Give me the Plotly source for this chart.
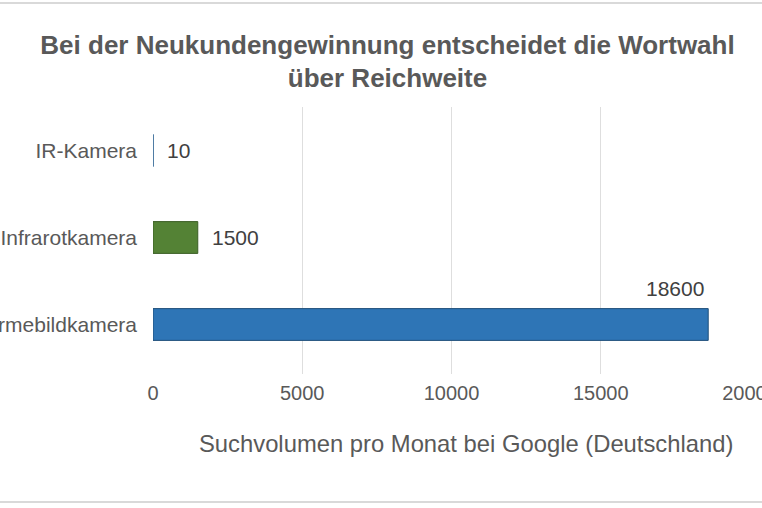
import plotly.graph_objects as go

categories = ["IR-Kamera", "Infrarotkamera", "Wärmebildkamera"]
values = [10, 1500, 18600]
bar_colors = ["#5B9BD5", "#548235", "#2E75B6"]
line_colors = ["#41719C", "#3B5E25", "#1F4E79"]
x_ticks = [0, 5000, 10000, 15000, 20000]
title_text = "Bei der Neukundengewinnung entscheidet die Wortwahl<br>über Reichweite"
x_title = "Suchvolumen pro Monat bei Google (Deutschland)"

FONT = "Liberation Sans, Arial, sans-serif"
W, H = 762, 508
L, R, T, B = 153, 12, 107, 134

fig = go.Figure()
fig.add_trace(go.Bar(
    y=categories, x=values, orientation="h",
    marker=dict(color=bar_colors, line=dict(color=line_colors, width=1)),
    hoverinfo="skip",
))

# data labels
for cat, v in zip(categories, values):
    if v > 10000:
        fig.add_annotation(x=v, y=cat, xref="x", yref="y", text=str(v),
                           showarrow=False, xanchor="right", yanchor="middle",
                           xshift=-2, yshift=36,
                           font=dict(family=FONT, size=21, color="#404040"))
    else:
        fig.add_annotation(x=v, y=cat, xref="x", yref="y", text=str(v),
                           showarrow=False, xanchor="left", yanchor="middle",
                           xshift=12,
                           font=dict(family=FONT, size=21, color="#404040"))

ph = H - T - B
pw = W - L - R

# axis title as annotation
fig.add_annotation(x=(466 - L) / pw, y=-(443 - (H - B)) / ph, xref="paper", yref="paper",
                   text=x_title, showarrow=False, xanchor="center", yanchor="middle",
                   font=dict(family=FONT, size=23.8, color="#595959"))

# frame lines top and bottom
for ypix in (3, 502):
    yp = ((H - B) - ypix) / ph
    fig.add_shape(type="line", xref="paper", yref="paper",
                  x0=-L / pw, x1=(W - L) / pw, y0=yp, y1=yp,
                  line=dict(color="#D9D9D9", width=2))

fig.update_layout(
    width=W, height=H,
    margin=dict(l=L, r=R, t=T, b=B, autoexpand=False),
    paper_bgcolor="white", plot_bgcolor="white",
    bargap=0.635,
    showlegend=False,
    title=dict(text=title_text, x=387.5 / W, xref="container", xanchor="center",
               y=1 - 53.5 / H, yref="container", yanchor="middle",
               font=dict(family=FONT, size=26, color="#595959", weight="bold")),
    font=dict(family=FONT, color="#595959"),
)
fig.update_xaxes(range=[0, 20000], tickvals=x_ticks, ticktext=[str(t) for t in x_ticks],
                 showgrid=True, gridcolor="#DEDEDE", gridwidth=1, zeroline=False,
                 showline=False, ticks="", ticklabelstandoff=5, automargin=False,
                 ticklabeloverflow="allow",
                 tickfont=dict(family=FONT, size=20, color="#595959"))
fig.update_yaxes(autorange="reversed", showgrid=False, zeroline=False, showline=False,
                 ticks="", ticklabelstandoff=15, automargin=False,
                 ticklabeloverflow="allow",
                 tickfont=dict(family=FONT, size=21, color="#595959"))

fig.write_html("out.html")
